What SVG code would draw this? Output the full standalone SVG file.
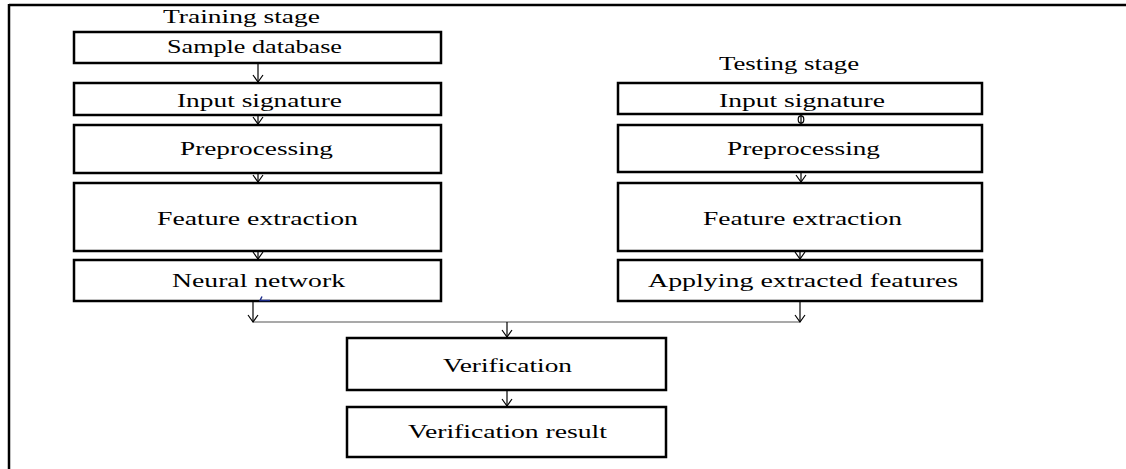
<svg xmlns="http://www.w3.org/2000/svg" width="1126" height="469" viewBox="0 0 1126 469">
  <style>
    .box { fill: #ffffff; stroke: #000000; stroke-width: 2.5; }
    .lbl { font-family: "Liberation Serif", "Times New Roman", serif; font-size: 18px; fill: #000000; }
    .flow { fill: none; stroke: #000000; stroke-width: 1.2; }
    .bus { fill: none; stroke: #555555; stroke-width: 1.2; }
    .frame { fill: none; stroke: #000000; stroke-width: 2.5; }
  </style>
  <defs>
    <!-- open V arrowhead drawn along +x so orient="auto" points it down the line -->
    <marker id="vhead" markerUnits="userSpaceOnUse" markerWidth="10" markerHeight="12" refX="8" refY="6" orient="auto" viewBox="0 0 10 12">
      <path d="M1,1 L8,6 L1,11" fill="none" stroke="#000000" stroke-width="1.2"/>
    </marker>
  </defs>

  <rect width="1126" height="469" fill="#ffffff"/>

  <!-- outer frame: top and left rules only -->
  <g id="frame">
    <line class="frame" x1="9" y1="5" x2="1126" y2="5"/>
    <line class="frame" x1="9" y1="4" x2="9" y2="469"/>
  </g>

  <!-- stage titles -->
  <g id="titles">
    <text class="lbl" x="163" y="23" textLength="157" lengthAdjust="spacingAndGlyphs">Training stage</text>
    <text class="lbl" x="719" y="70" textLength="140" lengthAdjust="spacingAndGlyphs">Testing stage</text>
  </g>

  <!-- training column -->
  <g id="train-sample">
    <rect class="box" x="74" y="32" width="367" height="31"/>
    <text class="lbl" x="167" y="53" textLength="175" lengthAdjust="spacingAndGlyphs">Sample database</text>
  </g>
  <g id="train-input">
    <rect class="box" x="74" y="83" width="367" height="32"/>
    <text class="lbl" x="177" y="107" textLength="165" lengthAdjust="spacingAndGlyphs">Input signature</text>
  </g>
  <g id="train-preprocessing">
    <rect class="box" x="74" y="125" width="367" height="48"/>
    <text class="lbl" x="180" y="155" textLength="153" lengthAdjust="spacingAndGlyphs">Preprocessing</text>
  </g>
  <g id="train-features">
    <rect class="box" x="74" y="183" width="367" height="68"/>
    <text class="lbl" x="157" y="225" textLength="201" lengthAdjust="spacingAndGlyphs">Feature extraction</text>
  </g>
  <g id="train-network">
    <rect class="box" x="74" y="260" width="367" height="41"/>
    <text class="lbl" x="172" y="287" textLength="173" lengthAdjust="spacingAndGlyphs">Neural network</text>
    <path d="M262,296.5 L260,300.5 L270,300.5" fill="none" stroke="#1a2a8a" stroke-width="1.4"/>
  </g>

  <!-- testing column -->
  <g id="test-input">
    <rect class="box" x="618" y="83" width="364" height="31"/>
    <text class="lbl" x="719" y="107" textLength="166" lengthAdjust="spacingAndGlyphs">Input signature</text>
  </g>
  <g id="test-preprocessing">
    <rect class="box" x="618" y="125" width="364" height="47"/>
    <text class="lbl" x="727" y="155" textLength="153" lengthAdjust="spacingAndGlyphs">Preprocessing</text>
  </g>
  <g id="test-features">
    <rect class="box" x="618" y="183" width="364" height="68"/>
    <text class="lbl" x="703" y="225" textLength="199" lengthAdjust="spacingAndGlyphs">Feature extraction</text>
  </g>
  <g id="test-apply">
    <rect class="box" x="618" y="260" width="364" height="41"/>
    <text class="lbl" x="648" y="287" textLength="310" lengthAdjust="spacingAndGlyphs">Applying extracted  features</text>
  </g>

  <!-- shared verification -->
  <g id="verification">
    <rect class="box" x="347" y="338" width="319" height="52"/>
    <text class="lbl" x="443" y="372" textLength="129" lengthAdjust="spacingAndGlyphs">Verification</text>
  </g>
  <g id="verification-result">
    <rect class="box" x="347" y="407" width="319" height="50"/>
    <text class="lbl" x="408" y="438" textLength="199" lengthAdjust="spacingAndGlyphs">Verification result</text>
  </g>

  <!-- connectors -->
  <g id="connectors">
    <line class="flow" x1="258" y1="64" x2="258" y2="82" marker-end="url(#vhead)"/>
    <line class="flow" x1="258" y1="116" x2="258" y2="124" marker-end="url(#vhead)"/>
    <line class="flow" x1="258" y1="174" x2="258" y2="182" marker-end="url(#vhead)"/>
    <line class="flow" x1="258" y1="252" x2="258" y2="259" marker-end="url(#vhead)"/>

    <line class="flow" x1="801" y1="115" x2="801" y2="124"/>
    <ellipse cx="801" cy="119.5" rx="2.8" ry="3.6" fill="none" stroke="#000000" stroke-width="1.2"/>
    <line class="flow" x1="801" y1="173" x2="801" y2="182" marker-end="url(#vhead)"/>
    <line class="flow" x1="800" y1="252" x2="800" y2="259" marker-end="url(#vhead)"/>

    <line class="bus" x1="253" y1="322" x2="800" y2="322"/>
    <line class="flow" x1="253" y1="302" x2="253" y2="322" marker-end="url(#vhead)"/>
    <line class="flow" x1="800" y1="302" x2="800" y2="322" marker-end="url(#vhead)"/>
    <line class="flow" x1="507" y1="322" x2="507" y2="337" marker-end="url(#vhead)"/>

    <line class="flow" x1="507" y1="391" x2="507" y2="406" marker-end="url(#vhead)"/>
  </g>
</svg>
